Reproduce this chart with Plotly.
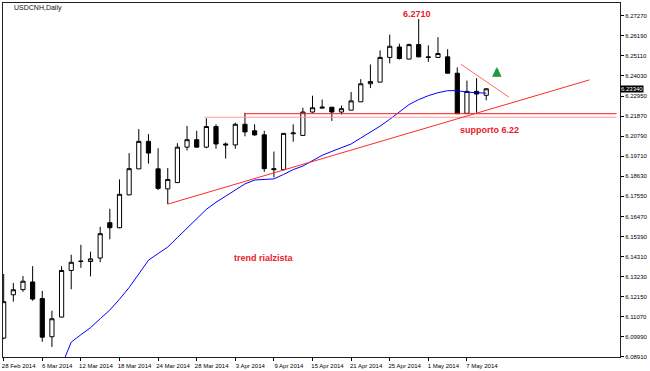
import plotly.graph_objects as go
import pandas as pd

# ---- data ----
dates = pd.bdate_range("2014-02-28", "2014-05-09")
opens = [6.0992, 6.1225, 6.1253, 6.1294, 6.1205, 6.0999, 6.1105, 6.1356, 6.1404, 6.1404,
         6.1423, 6.1613, 6.1586, 6.1763, 6.1903, 6.2051, 6.1903, 6.1795, 6.1829, 6.2020,
         6.2060, 6.2020, 6.2131, 6.2037, 6.2032, 6.2143, 6.2108, 6.2086, 6.1904, 6.1899,
         6.2092, 6.2083, 6.2209, 6.2230, 6.2235, 6.2209, 6.2219, 6.2264, 6.2361, 6.2370,
         6.2503, 6.2559, 6.2494, 6.2572, 6.2506, 6.2503, 6.2506, 6.2418, 6.2202, 6.2320,
         6.2299]
highs = [6.1337, 6.1289, 6.1326, 6.1379, 6.1246, 6.1139, 6.1379, 6.1441, 6.1494, 6.1457,
         6.1591, 6.1688, 6.1846, 6.1988, 6.2117, 6.2090, 6.2014, 6.1908, 6.2041, 6.2134,
         6.2108, 6.2175, 6.2143, 6.2045, 6.2152, 6.2205, 6.2143, 6.2108, 6.1996, 6.2096,
         6.2143, 6.2232, 6.2297, 6.2276, 6.2236, 6.2244, 6.2317, 6.2386, 6.2465, 6.2541,
         6.2626, 6.2577, 6.2577, 6.2710, 6.2568, 6.2612, 6.2547, 6.2449, 6.2378, 6.2391,
         6.2338]
lows = [6.0986, 6.1188, 6.1241, 6.1193, 6.0972, 6.0944, 6.1103, 6.1255, 6.1370, 6.1324,
        6.1400, 6.1524, 6.1583, 6.1761, 6.1902, 6.1931, 6.1789, 6.1713, 6.1828, 6.2002,
        6.2019, 6.2014, 6.2011, 6.1958, 6.2011, 6.2078, 6.2080, 6.1887, 6.1857, 6.1896,
        6.2049, 6.2082, 6.2205, 6.2227, 6.2161, 6.2196, 6.2219, 6.2263, 6.2338, 6.2369,
        6.2471, 6.2492, 6.2493, 6.2504, 6.2479, 6.2502, 6.2417, 6.2199, 6.2200, 6.2205,
        6.2272]
closes = [6.1188, 6.1252, 6.1298, 6.1202, 6.0997, 6.1096, 6.1356, 6.1400, 6.1406, 6.1418,
          6.1554, 6.1586, 6.1766, 6.1904, 6.2051, 6.1988, 6.1798, 6.1846, 6.2020, 6.2060,
          6.2020, 6.2131, 6.2037, 6.2032, 6.2143, 6.2102, 6.2086, 6.1904, 6.1899, 6.2094,
          6.2096, 6.2209, 6.2232, 6.2235, 6.2209, 6.2227, 6.2269, 6.2361, 6.2373, 6.2503,
          6.2563, 6.2497, 6.2572, 6.2506, 6.2503, 6.2524, 6.2418, 6.2200, 6.2320, 6.2306,
          6.2334]
ma = [None, None, None, None, None, None,
      6.0843, 6.0970, 6.1010, 6.1048, 6.1096, 6.1143, 6.1201, 6.1264, 6.1337, 6.1411,
      6.1447, 6.1482, 6.1533, 6.1584, 6.1635, 6.1685, 6.1723, 6.1757, 6.1790, 6.1822,
      6.1843, 6.1848, 6.1849, 6.1873, 6.1899, 6.1918, 6.1949, 6.1976, 6.1997, 6.2016,
      6.2037, 6.2069, 6.2101, 6.2133, 6.2170, 6.2212, 6.2249, 6.2276, 6.2297, 6.2313,
      6.2324, 6.2324, 6.2316, 6.2313, 6.2311]

ytick_labels = ["6.08910", "6.09990", "6.11070", "6.12150", "6.13230", "6.14310",
                "6.15390", "6.16470", "6.17550", "6.18630", "6.19710", "6.20790",
                "6.21870", "6.22950", "6.24030", "6.25110", "6.26190", "6.27270"]
current_price = 6.2334
current_label = "6.23340"

# support lines: (start bar, price)
support_main = (24.9, 6.2200)
support_minor = (20.8, 6.2181)
line_end_bar = 63.5
# trend lines: (bar, price) endpoints
uptrend = [(17, 6.1713), (60.7, 6.2382)]
downtrend = [(47.35, 6.2467), (52.38, 6.2288)]
arrow_pt = (51.1, 6.2451)

labels = [("6.2710", 42.8, 6.2738), ("supporto 6.22", 50.3, 6.2113),
          ("trend rialzista", 27.0, 6.1424)]

# ---- figure ----
x = list(range(len(dates)))
tickvals_x = x[::4]
ticktext_x = [f"{d.day} {d.strftime('%b %Y')}" for d in dates[::4]]
FONT = "Liberation Sans"

fig = go.Figure()
fig.add_trace(go.Candlestick(
    x=x, open=opens, high=highs, low=lows, close=closes,
    increasing=dict(line=dict(color="black", width=1), fillcolor="white"),
    decreasing=dict(line=dict(color="black", width=1), fillcolor="black"),
    whiskerwidth=0, hoverinfo="skip"))
fig.add_trace(go.Scatter(x=x, y=ma, mode="lines", line=dict(color="#0000ff", width=1),
                         hoverinfo="skip", connectgaps=False))

for (b0, p), col in [(support_main, "#ff1a1a"), (support_minor, "#ff9a9a")]:
    fig.add_trace(go.Scatter(x=[b0, line_end_bar], y=[p, p], mode="lines",
                             line=dict(color=col, width=1), hoverinfo="skip"))
for pts, col in [(uptrend, "#ff2a2a"), (downtrend, "#ff6b6b")]:
    fig.add_trace(go.Scatter(x=[q[0] for q in pts], y=[q[1] for q in pts], mode="lines",
                             line=dict(color=col, width=1), hoverinfo="skip"))

annos = []
for txt, bx, py in labels:
    annos.append(dict(x=bx, y=py, text=f"<b>{txt}</b>", showarrow=False,
                      font=dict(family=FONT, size=9, color="#e8202a")))
annos.append(dict(x=arrow_pt[0], y=arrow_pt[1], text="", showarrow=True, ax=0, ay=11,
                  arrowhead=2, arrowsize=0.6, arrowwidth=3.2, arrowcolor="#1f9a3a"))
annos.append(dict(xref="paper", yref="paper", x=0.015, y=0.987, xanchor="left",
                  yanchor="middle", text="USDCNH,Daily", showarrow=False,
                  font=dict(family=FONT, size=7, color="#111")))
annos.append(dict(xref="paper", x=1.0, y=current_price, xanchor="left", yanchor="middle",
                  text=current_label, showarrow=False, bgcolor="black", borderpad=0,
                  font=dict(family=FONT, size=6, color="white")))

fig.update_layout(
    width=650, height=371, margin=dict(l=2, r=26, t=2, b=9),
    paper_bgcolor="white", plot_bgcolor="white", showlegend=False,
    boxgap=0.38, annotations=annos, hovermode=False,
    xaxis=dict(range=[-0.07, 63.86], tickvals=tickvals_x, ticktext=ticktext_x,
               ticks="outside", ticklen=3, tickcolor="black", showgrid=False,
               zeroline=False, showline=True, mirror=True, linecolor="#222",
               tickfont=dict(family=FONT, size=6, color="black"),
               ticklabelshift=15, ticklabelstandoff=0,
               rangeslider=dict(visible=False)),
    yaxis=dict(range=[6.0890, 6.2796], side="right",
               tickvals=[float(s) for s in ytick_labels], ticktext=ytick_labels,
               ticks="outside", ticklen=3, tickcolor="black", showgrid=False,
               zeroline=False, showline=True, mirror=True, linecolor="#222",
               tickfont=dict(family=FONT, size=6, color="black")),
)

fig.write_html("out.html")
